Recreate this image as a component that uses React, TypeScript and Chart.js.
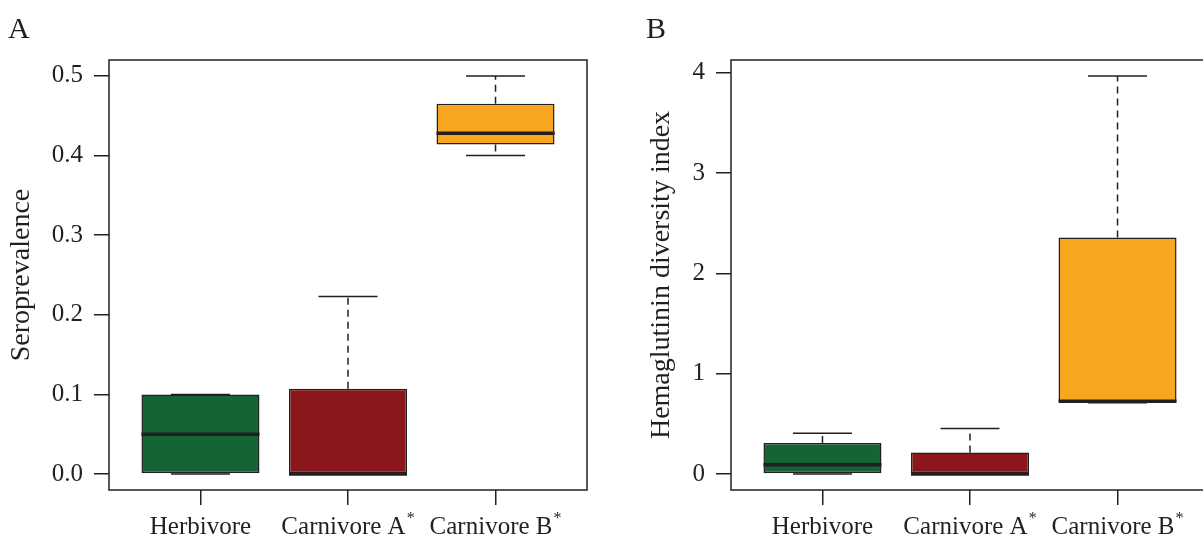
import React, { useEffect, useRef } from 'react';
import { Chart, registerables } from 'chart.js';

Chart.register(...registerables);

// ---- data ----
const categories = ['Herbivore', 'Carnivore A', 'Carnivore B'];
const categoryMarks = ['', '*', '*'];

// Panel A: seroprevalence (five-number summaries)
const seroMin = [0, 0, 0.4];
const seroQ1 = [0, 0, 0.414];
const seroMedian = [0.05, 0, 0.428];
const seroQ3 = [0.1, 0.107, 0.465];
const seroMax = [0.1, 0.223, 0.5];
const seroTicks = [0, 0.1, 0.2, 0.3, 0.4, 0.5];

// Panel B: hemaglutinin diversity index
const hdiMin = [0, 0, 0.71];
const hdiQ1 = [0, 0, 0.725];
const hdiMedian = [0.093, 0, 0.725];
const hdiQ3 = [0.31, 0.214, 2.36];
const hdiMax = [0.407, 0.455, 3.97];
const hdiTicks = [0, 1, 2, 3, 4];

const boxColors = ['#146436', '#8b171d', '#f8a51f'];
const INK = '#231f20';
const FONT = '"Liberation Serif", "Times New Roman", serif';

type Panel = {
  min: number[]; q1: number[]; median: number[]; q3: number[]; max: number[];
  ticks: number[]; decimals: number; title: string; letter: string;
};
type Geom = { axisWidth: number; padRight: number; titlePad: number; letterX: number };

function makeChart(canvas: HTMLCanvasElement, p: Panel, g: Geom) {
  const lo = Math.min(...p.min);
  const hi = Math.max(...p.max);
  const span = hi - lo;
  const n = categories.length;

  const boxPlugin = {
    id: 'boxplot',
    beforeDatasetsDraw(chart: any) {
      const { ctx, scales: { x, y } } = chart;
      ctx.save();
      ctx.strokeStyle = INK;
      ctx.lineWidth = 1.5;
      for (let i = 0; i < n; i++) {
        const cx = x.getPixelForValue(i + 1);
        ctx.setLineDash([7, 5]);
        ctx.beginPath();
        ctx.moveTo(cx, y.getPixelForValue(p.q3[i]));
        ctx.lineTo(cx, y.getPixelForValue(p.max[i]));
        ctx.moveTo(cx, y.getPixelForValue(p.q1[i]));
        ctx.lineTo(cx, y.getPixelForValue(p.min[i]));
        ctx.stroke();
        ctx.setLineDash([]);
        const l = x.getPixelForValue(i + 1 - 0.2);
        const r = x.getPixelForValue(i + 1 + 0.2);
        ctx.beginPath();
        ctx.moveTo(l, y.getPixelForValue(p.max[i]));
        ctx.lineTo(r, y.getPixelForValue(p.max[i]));
        ctx.moveTo(l, y.getPixelForValue(p.min[i]));
        ctx.lineTo(r, y.getPixelForValue(p.min[i]));
        ctx.stroke();
      }
      ctx.restore();
    },
    afterDatasetsDraw(chart: any) {
      const { ctx, scales: { x, y } } = chart;
      ctx.save();
      ctx.strokeStyle = INK;
      ctx.lineWidth = 3.5;
      for (let i = 0; i < n; i++) {
        const py = y.getPixelForValue(p.median[i]);
        ctx.beginPath();
        ctx.moveTo(x.getPixelForValue(i + 1 - 0.4), py);
        ctx.lineTo(x.getPixelForValue(i + 1 + 0.4), py);
        ctx.stroke();
      }
      ctx.restore();
    },
    afterDraw(chart: any) {
      const { ctx, chartArea: a, scales: { x } } = chart;
      ctx.save();
      ctx.strokeStyle = INK;
      ctx.lineWidth = 1.5;
      ctx.strokeRect(a.left, a.top, a.right - a.left, a.bottom - a.top);
      // category labels with superscript marks
      ctx.fillStyle = INK;
      ctx.textBaseline = 'alphabetic';
      ctx.textAlign = 'left';
      const baseY = x.top + 44;
      for (let i = 0; i < n; i++) {
        ctx.font = `25px ${FONT}`;
        const w1 = ctx.measureText(categories[i]).width;
        ctx.font = `16px ${FONT}`;
        const w2 = categoryMarks[i] ? ctx.measureText(categoryMarks[i]).width + 1 : 0;
        const start = x.getPixelForValue(i + 1) - (w1 + w2) / 2;
        ctx.font = `25px ${FONT}`;
        ctx.fillText(categories[i], start, baseY);
        if (categoryMarks[i]) {
          ctx.font = `16px ${FONT}`;
          ctx.fillText(categoryMarks[i], start + w1 + 1, baseY - 11);
        }
      }
      ctx.font = `30px ${FONT}`;
      ctx.fillText(p.letter, g.letterX, 38);
      ctx.restore();
    },
  };

  const gridOpts = {
    drawOnChartArea: false,
    drawTicks: true,
    tickLength: 15,
    color: INK,
    lineWidth: 1.5,
    offset: false,
  };

  return new Chart(canvas, {
    type: 'bar',
    data: {
      datasets: [
        {
          data: categories.map((_, i) => ({ x: i + 1, y: [p.q1[i], p.q3[i]] })) as any,
          backgroundColor: boxColors,
          borderColor: INK,
          borderWidth: 1.5,
          borderSkipped: false,
          barPercentage: 0.8,
          categoryPercentage: 1,
        },
      ],
    },
    options: {
      responsive: false,
      animation: false,
      layout: { padding: { left: 0, right: g.padRight, top: 60, bottom: 0 } },
      plugins: {
        legend: { display: false },
        tooltip: { enabled: false },
        title: { display: false },
      },
      scales: {
        x: {
          type: 'linear',
          offset: false,
          min: 0.5 - 0.04 * n,
          max: n + 0.5 + 0.04 * n,
          afterBuildTicks: (s: any) => {
            s.ticks = categories.map((_, i) => ({ value: i + 1 }));
          },
          afterFit: (s: any) => {
            s.height = 51;
          },
          grid: gridOpts,
          border: { display: false },
          ticks: { display: false },
        },
        y: {
          type: 'linear',
          min: lo - 0.04 * span,
          max: hi + 0.04 * span,
          afterBuildTicks: (s: any) => {
            s.ticks = p.ticks.map((v) => ({ value: v }));
          },
          afterFit: (s: any) => {
            s.width = g.axisWidth;
          },
          grid: gridOpts,
          border: { display: false },
          ticks: {
            font: { family: FONT, size: 25 },
            color: INK,
            padding: 11,
            callback: (v: any) => Number(v).toFixed(p.decimals),
          },
          title: {
            display: true,
            text: p.title,
            font: { family: FONT, size: 28 },
            color: INK,
            padding: { top: g.titlePad, bottom: 0 },
          },
        },
      },
    } as any,
    plugins: [boxPlugin],
  });
}

export default function App() {
  const refA = useRef<HTMLCanvasElement>(null);
  const refB = useRef<HTMLCanvasElement>(null);

  useEffect(() => {
    const a = makeChart(
      refA.current!,
      { min: seroMin, q1: seroQ1, median: seroMedian, q3: seroQ3, max: seroMax, ticks: seroTicks, decimals: 1, title: 'Seroprevalence', letter: 'A' },
      { axisWidth: 109, padRight: 13, titlePad: 5, letterX: 8 }
    );
    const b = makeChart(
      refB.current!,
      { min: hdiMin, q1: hdiQ1, median: hdiMedian, q3: hdiQ3, max: hdiMax, ticks: hdiTicks, decimals: 0, title: 'Hemaglutinin diversity index', letter: 'B' },
      { axisWidth: 131, padRight: 11, titlePad: 45, letterX: 46 }
    );
    return () => {
      a.destroy();
      b.destroy();
    };
  }, []);

  return (
    <div style={{ position: 'fixed', left: 0, top: 0, width: 1203, height: 541, overflow: 'hidden', background: '#fff' }}>
      <canvas ref={refA} width={600} height={541} style={{ position: 'absolute', left: 0, top: 0 }} />
      <canvas ref={refB} width={620} height={541} style={{ position: 'absolute', left: 600, top: 0 }} />
    </div>
  );
}
